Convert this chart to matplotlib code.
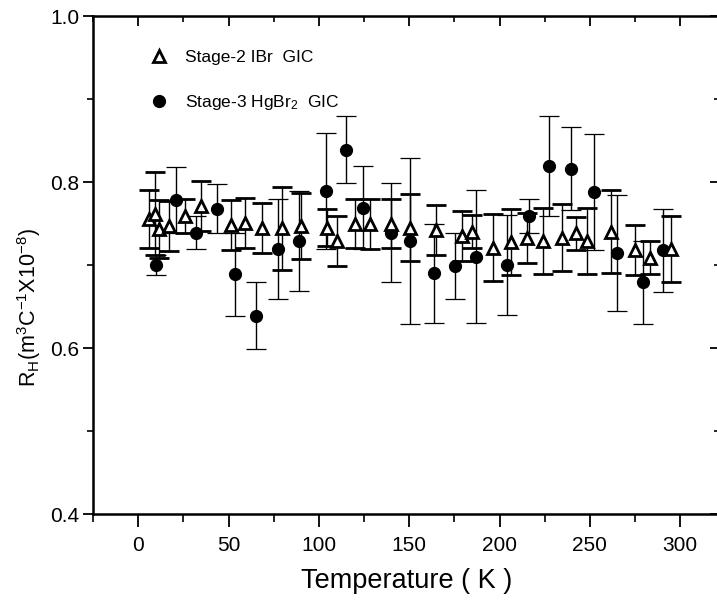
import matplotlib
matplotlib.use("Agg")
import matplotlib.pyplot as plt
from matplotlib import font_manager
from matplotlib.lines import Line2D
from matplotlib.ticker import MultipleLocator
import numpy as np

# Stage-2 IBr GIC (open triangles)
ibr_temp = [5.8, 9.4, 11.5, 17.0, 26.0, 34.9, 51.1, 59.3, 68.8, 79.6, 90.3,
            104.7, 109.9, 119.8, 128.4, 139.8, 150.6, 164.6, 179.0, 184.5,
            196.3, 206.2, 215.2, 224.1, 234.3, 242.2, 248.5, 261.4, 275.1,
            283.2, 294.7]
ibr_rh = [0.755, 0.762, 0.743, 0.747, 0.759, 0.771, 0.748, 0.751, 0.745,
          0.744, 0.747, 0.745, 0.729, 0.750, 0.749, 0.750, 0.745, 0.742,
          0.735, 0.740, 0.721, 0.728, 0.733, 0.729, 0.733, 0.738, 0.729,
          0.740, 0.718, 0.709, 0.719]
ibr_err = [0.035, 0.05, 0.035, 0.03, 0.02, 0.03, 0.03, 0.03, 0.03, 0.05, 0.04,
           0.022, 0.03, 0.03, 0.03, 0.03, 0.04, 0.03, 0.03, 0.02, 0.04, 0.04,
           0.03, 0.04, 0.04, 0.02, 0.04, 0.05, 0.03, 0.02, 0.04]

# Stage-3 HgBr2 GIC (filled circles)
hgbr_temp = [9.8, 20.8, 31.9, 43.7, 53.7, 65.2, 77.4, 88.8, 104.0, 114.9,
             124.7, 139.8, 150.6, 163.5, 175.3, 187.1, 204.1, 216.1, 227.4,
             239.3, 252.5, 264.9, 279.2, 290.6]
hgbr_rh = [0.700, 0.778, 0.739, 0.768, 0.689, 0.639, 0.719, 0.729, 0.789,
           0.839, 0.769, 0.739, 0.729, 0.690, 0.699, 0.710, 0.700, 0.759,
           0.819, 0.816, 0.788, 0.714, 0.679, 0.718]
hgbr_err = [0.012, 0.04, 0.02, 0.03, 0.05, 0.04, 0.06, 0.06, 0.07, 0.04,
            0.05, 0.06, 0.10, 0.06, 0.04, 0.08, 0.06, 0.02, 0.06, 0.05,
            0.07, 0.07, 0.05, 0.05]

names = {f.name for f in font_manager.fontManager.ttflist}
base_font = "Liberation Sans Narrow" if "Liberation Sans Narrow" in names else "Liberation Sans"
plt.rcParams["font.family"] = [base_font, "DejaVu Sans"]
plt.rcParams["mathtext.fontset"] = "custom"
plt.rcParams["mathtext.rm"] = base_font
plt.rcParams["mathtext.it"] = base_font

fig = plt.figure(figsize=(7.17, 6.0), dpi=100)
ax = fig.add_axes([93 / 717, 86 / 600, 627 / 717, 498 / 600])

ax.errorbar(ibr_temp, ibr_rh, yerr=ibr_err, fmt="^", ms=8, mfc="white",
            mec="black", mew=2.0, ecolor="black", elinewidth=1.0,
            capsize=7, capthick=0.9, zorder=3)
ax.errorbar(hgbr_temp, hgbr_rh, yerr=hgbr_err, fmt="o", ms=8.5, mfc="black",
            mec="black", ecolor="black", elinewidth=1.0,
            capsize=7, capthick=0.9, zorder=2)

ax.set_xlim(-25, 322)
ax.set_ylim(0.4, 1.0)
ax.xaxis.set_major_locator(MultipleLocator(50))
ax.xaxis.set_minor_locator(MultipleLocator(25))
ax.yaxis.set_major_locator(MultipleLocator(0.2))
ax.yaxis.set_minor_locator(MultipleLocator(0.1))
ax.yaxis.set_major_formatter(matplotlib.ticker.FormatStrFormatter("%.1f"))
ax.tick_params(which="major", direction="out", length=7, width=1.3, labelsize=15, pad=3)
ax.tick_params(which="minor", direction="out", length=4, width=1.2)
ax.tick_params(axis="x", which="major", length=9, pad=7)
ax.tick_params(axis="x", which="minor", length=6)

for side in ["left", "bottom", "top", "right"]:
    ax.spines[side].set_linewidth(1.8)

top = ax.secondary_xaxis("top")
top.xaxis.set_major_locator(MultipleLocator(50))
top.xaxis.set_minor_locator(MultipleLocator(25))
top.tick_params(which="major", direction="in", length=7, width=1.3, labeltop=False)
top.tick_params(which="minor", direction="in", length=4, width=1.2)
right = ax.secondary_yaxis("right")
right.yaxis.set_major_locator(MultipleLocator(0.2))
right.yaxis.set_minor_locator(MultipleLocator(0.1))
right.tick_params(which="major", direction="in", length=7, width=1.3, labelright=False)
right.tick_params(which="minor", direction="in", length=4, width=1.2)

ax.set_xlabel("Temperature ( K )", fontsize=19.5, labelpad=9)
ax.set_ylabel(r"R$_{\mathrm{H}}$(m$^{\mathrm{3}}$C$^{\mathrm{-1}}$X10$^{\mathrm{-8}}$)",
              fontsize=15.5, labelpad=4)
ax.yaxis.set_label_coords(-0.08, 0.415)

handles = [
    Line2D([], [], ls="none", marker="^", ms=8, mfc="white", mec="black", mew=2.0),
    Line2D([], [], ls="none", marker="o", ms=8.5, mfc="black", mec="black"),
]
labels = ["Stage-2 IBr  GIC", r"Stage-3 HgBr$_{\mathrm{2}}$  GIC"]
ax.legend(handles, labels, loc="upper left", bbox_to_anchor=(0.066, 0.963),
          frameon=False, fontsize=12.5, handlelength=1.0, handletextpad=1.0,
          labelspacing=1.6)

fig.savefig("out.png")
